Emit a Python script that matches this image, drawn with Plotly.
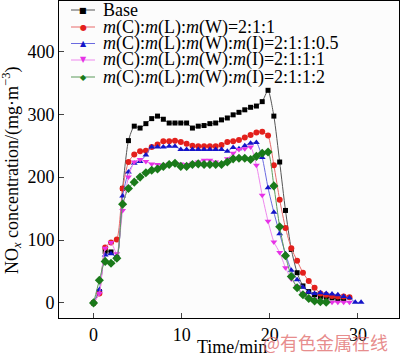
import plotly.graph_objects as go

time_min = [0, 0.66, 1.32, 1.98, 2.64, 3.30, 3.96, 4.62, 5.28, 5.94, 6.60, 7.26, 7.92, 8.58,
            9.24, 9.90, 10.56, 11.22, 11.88, 12.54, 13.20, 13.86, 14.52, 15.18, 15.84, 16.50,
            17.16, 17.82, 18.48, 19.14, 19.80, 20.46, 21.12, 21.78, 22.44, 23.10, 23.76, 24.42,
            25.08, 25.74, 26.40, 27.06, 27.72, 28.38, 29.04, 29.70, 30.36]

base = [0, 18, 82, 81, 72, 182, 258, 281, 278, 285, 293, 297, 292, 286, 286, 286, 286, 278,
        281, 282, 285, 286, 291, 294, 299, 303, 307, 311, 313, 320, 338, 297, 224, 147, 85,
        48, 27, 18, 13, 10, 9, 8, 6, 6]
ratio_211 = [0, 15, 88, 96, 101, 182, 224, 236, 241, 242, 248, 252, 257, 257, 258, 256, 253,
             250, 249, 249, 249, 249, 251, 256, 257, 259, 263, 267, 271, 272, 266, 219, 164,
             119, 87, 67, 48, 35, 24, 15, 13, 11, 10, 10, 9]
ratio_211_05 = [2, 21, 76, 78, 74, 170, 208, 222, 225, 235, 248, 248, 248, 249, 249, 244, 244,
                244, 244, 244, 244, 244, 244, 241, 247, 245, 250, 254, 255, 231, 183, 144, 110,
                78, 52, 37, 25, 17, 15, 16, 15, 14, 13, 10, 8, 1, 1]
ratio_211_1 = [0, 15, 87, 96, 78, 147, 200, 224, 228, 225, 221, 220, 219, 221, 221, 221, 220,
               222, 224, 227, 227, 224, 221, 229, 238, 244, 245, 248, 219, 171, 130, 97, 80,
               56, 38, 26, 15, 9, 6, 2, 1, 1, 1, 1, 1]
ratio_211_2 = [0, 36, 66, 63, 71, 157, 182, 192, 200, 207, 211, 213, 217, 220, 222, 217, 217,
               220, 221, 220, 220, 220, 220, 224, 229, 230, 230, 228, 233, 238, 240, 186, 121,
               75, 42, 24, 13, 7, 3, 2, 1]

series_names = ["Base",
                "<i>m</i>(C):<i>m</i>(L):<i>m</i>(W)=2:1:1",
                "<i>m</i>(C):<i>m</i>(L):<i>m</i>(W):<i>m</i>(I)=2:1:1:0.5",
                "<i>m</i>(C):<i>m</i>(L):<i>m</i>(W):<i>m</i>(I)=2:1:1:1",
                "<i>m</i>(C):<i>m</i>(L):<i>m</i>(W):<i>m</i>(I)=2:1:1:2"]
series_values = [base, ratio_211, ratio_211_05, ratio_211_1, ratio_211_2]
colors = ["#000000", "#e3201c", "#1414c8", "#e632e6", "#1a7a1a"]
line_colors = ["#555555", "#e86a6a", "#6a6ae0", "#ee88ee", "#5a9a5a"]
symbols = ["square", "circle", "triangle-up", "triangle-down", "diamond"]
glyphs = ["■", "●", "▲", "▼", "◆"]
sizes = [5, 6, 6, 6, 7]

fig = go.Figure()
for name, vals, c, lc, sym, sz in zip(series_names, series_values, colors, line_colors, symbols, sizes):
    fig.add_trace(go.Scatter(
        x=time_min[:len(vals)], y=vals, name=name, mode="lines+markers",
        line=dict(color=lc, width=1, shape="spline", smoothing=0.6),
        marker=dict(symbol=sym, size=sz, color=c, line=dict(width=0)),
        showlegend=False))

font_family = "Liberation Serif, Times New Roman, serif"

L, T, PW, PH = 59, 1, 340, 317


def px(xp):
    return (xp - L) / PW


def py(yp):
    return 1 - (yp - T) / PH


# compact legend drawn in the top-left corner
row_y = [10, 27, 43.5, 60, 77]
shapes = []
annotations = []
for i, (name, c, lc, g) in enumerate(zip(series_names, colors, line_colors, glyphs)):
    yp = py(row_y[i])
    shapes.append(dict(type="line", xref="paper", yref="paper",
                       x0=px(71), x1=px(95), y0=yp, y1=yp,
                       line=dict(color=lc, width=1)))
    annotations.append(dict(text=g, xref="paper", yref="paper", x=px(83), y=yp,
                            xanchor="center", yanchor="middle", showarrow=False,
                            font=dict(family="DejaVu Sans", size=8, color=c)))
    annotations.append(dict(text=name, xref="paper", yref="paper", x=px(101), y=yp,
                            xanchor="left", yanchor="middle", showarrow=False,
                            font=dict(family=font_family, size=18, color="#000000")))

# axis titles
annotations.append(dict(text="Time/min", xref="paper", yref="paper", x=px(232), y=py(347),
                        xanchor="center", yanchor="middle", showarrow=False,
                        font=dict(family=font_family, size=18, color="black")))
annotations.append(dict(text="NO<sub><i>x</i></sub> concentration/(mg·m<sup>−3</sup>)",
                        xref="paper", yref="paper", x=px(11), y=py(171), textangle=-90,
                        xanchor="center", yanchor="middle", showarrow=False,
                        font=dict(family=font_family, size=18, color="black")))

annotations.append(dict(text="@有色金属在线", xref="paper", yref="paper",
                        x=px(325), y=py(342),
                        xanchor="center", yanchor="middle", showarrow=False,
                        font=dict(family="Noto Sans CJK SC", size=18, color="rgba(225,110,110,0.8)")))

fig.update_layout(
    width=400, height=358,
    margin=dict(l=L, r=400 - L - PW, t=T, b=358 - T - PH),
    paper_bgcolor="white", plot_bgcolor="#fcfcfc",
    font=dict(family=font_family, size=18, color="black"),
    shapes=shapes, annotations=annotations,
    xaxis=dict(range=[-3.92, 34.66], tickvals=[0, 10, 20, 30], ticks="inside", ticklen=5,
               showline=True, mirror=True, linecolor="black", linewidth=1, showgrid=False,
               zeroline=False, automargin=False, tickfont=dict(size=18)),
    yaxis=dict(range=[-24, 480], tickvals=[0, 100, 200, 300, 400], ticks="inside", ticklen=5,
               showline=True, mirror=True, linecolor="black", linewidth=1, showgrid=False,
               zeroline=False, automargin=False, tickfont=dict(size=18)),
)

fig.write_html("out.html", config={"displayModeBar": False},
               post_script="document.body.style.margin='0';document.body.style.overflow='hidden';")
